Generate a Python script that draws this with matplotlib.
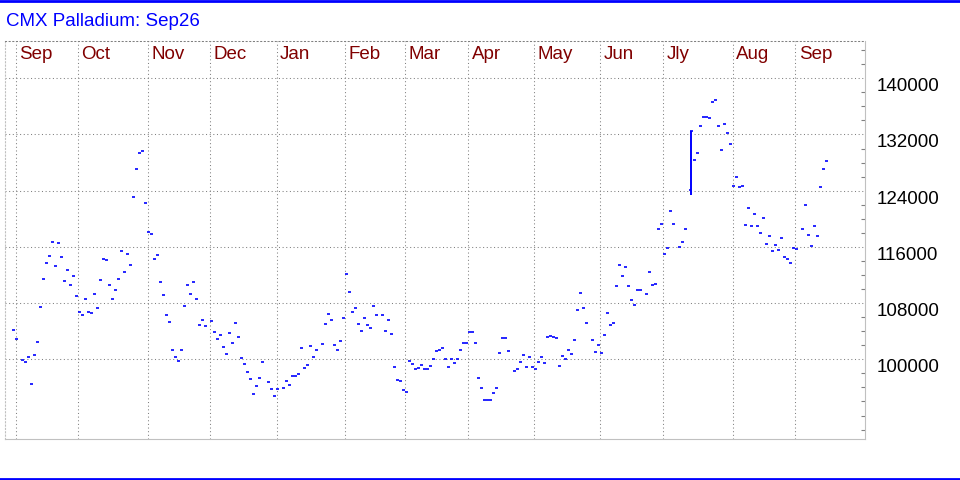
import numpy as np
import matplotlib
matplotlib.use('Agg')
import matplotlib.pyplot as plt
from matplotlib.lines import Line2D
from matplotlib.ticker import MultipleLocator

plt.rcParams['font.family'] = ['Liberation Sans', 'DejaVu Sans']

title = 'CMX Palladium: Sep26'

# month names and where their grid line falls (in trading-day slots)
months = ['Sep', 'Oct', 'Nov', 'Dec', 'Jan', 'Feb', 'Mar', 'Apr', 'May',
          'Jun', 'Jly', 'Aug', 'Sep']
month_pos = [0.8, 21.67, 44.8, 65.67, 87.8, 110.67, 130.67, 151.67, 173.67,
             195.67, 216.67, 239.8, 260.67]

nan = float('nan')
# daily settles, nan = holiday
closes = [
    104150, 102850, nan, 99900, 99570, 100280, 96440, 100570, 102420, 107400,
    111390, 113670, 114660, 116650, 113240, 116510, 114520, 111100, 112670, 110530,
    111820, 108970, 106690, 106260, 108540, 106690, 106550, 109250, 107260, 111250,
    114240, 114090, 110530, 108540, 109820, 111390, 115370, 112380, 114950, 113380,
    123060, 127050, 129320, 129610, 122210, 118080, 117790, 114240, 114800, 110960,
    109110, 106260, 105270, 101280, 100280, 99720, 101280, 107540, 110530, 109250,
    110960, 108540, 104840, 105550, 104700, nan, 105410, 103840, 102850, 103420,
    101710, 100710, 103700, 102280, 105120, 103130, 100140, 99290, 98150, 97150,
    95020, 96160, 97300, 99570, nan, 96730, 95730, 94730, 95730, nan,
    95870, 96870, 96300, 97580, 97580, 97860, 101570, 98720, 99150, 101850,
    100280, 101280, nan, 102140, 104980, 106410, 105550, 101990, 101280, 102560,
    105840, 112100, 109540, 106690, 107260, 104980, 103990, 105840, 104840, 104410,
    107540, 106260, nan, 106260, 103990, 105550, 103560, 98860, 97010, 96870,
    95590, 95300, 99720, 99290, 98580, 98720, 99150, 98580, 98580, 99000,
    100000, 101140, 101280, 101570, 100000, 98860, 100000, 99430, 100000, 101280,
    102280, 102280, 103840, 103840, 102280, 97300, 95870, 94160, 94160, 94160,
    95160, 95870, 100850, 102990, 102990, 101140, nan, 98290, 98580, 99570,
    100570, 98860, 100280, 98860, 98580, 99570, 100280, 99430, 103130, 103270,
    103130, 102990, 99000, 100430, 100000, 101280, 100710, 102700, 106980, 109400,
    107260, 105120, nan, 102700, 101000, 101990, 100850, 103420, 106550, 104840,
    105120, 110390, 113380, 111820, 113100, 110390, 108400, 107690, 109820, 109820,
    nan, 109250, 112380, 110530, 110680, 118510, 119220, 114950, 115800, 121070,
    119220, nan, 115940, 116650, 118510, nan, 132460, 128330, 129320, 133170,
    134450, 134450, 134310, 136580, 136870, 133170, 129750, 133450, 132170, 130600,
    124630, 125910, 124480, 124630, 119070, 121490, 118930, 120640, 118930, 117940,
    120070, 116370, 117510, 115370, 116230, 115520, 117220, 114520, 114240, 113670,
    115800, 115660, nan, 118510, 121920, 117650, 116090, 118930, 117510, 124480,
    127050, 128190,
]

# the one day that actually traded a range
bar_day = 226
bar_open = 124060
bar_high = 132460
bar_low = 123350

blue = '#0000ff'
grid_col = '#808080'
frame_col = '#c0c0c0'

fig = plt.figure(figsize=(9.6, 4.8), dpi=100)
ax = fig.add_axes([5.3 / 960, 41 / 480, (865 - 5.3) / 960, 398.3 / 480])

days = np.arange(len(closes))
c = np.array(closes, dtype=float)
ok = ~np.isnan(c)
ax.hlines(c[ok], days[ok] - 0.5, days[ok] + 0.5, colors=blue, lw=1.2)
ax.vlines(bar_day, bar_low, bar_high, colors=blue, lw=1.4)
ax.hlines(bar_open, bar_day - 0.8, bar_day, colors=blue, lw=1.2)

ax.set_xlim(-2.67, 283.9)
ax.set_ylim(88655, 145352)

ax.set_xticks(month_pos)
ax.set_xticklabels([])
ax.tick_params(axis='x', length=0)
ax.set_yticks(range(100000, 140001, 8000))
ax.yaxis.set_minor_locator(MultipleLocator(2000))
ax.yaxis.tick_right()
ax.tick_params(axis='y', which='major', length=0, pad=8.6, labelsize=13.5,
               labelcolor='black')
ax.tick_params(axis='y', which='minor', direction='in', length=3,
               color=grid_col, width=0.8, right=True, left=False)
for t in ax.get_yticklabels():
    t.set_va('top')
ax.grid(True, which='major', color=grid_col, ls=(0, (1, 2.5)), lw=0.75)

ax.spines['top'].set_color(grid_col)
ax.spines['top'].set_linestyle((0, (1, 2.5)))
ax.spines['top'].set_linewidth(0.75)
ax.spines['left'].set_color(frame_col)
ax.spines['left'].set_linestyle((0, (1, 2)))
ax.spines['left'].set_linewidth(0.8)
ax.spines['right'].set_color(frame_col)
ax.spines['bottom'].set_color(frame_col)

for p, m in zip(month_pos, months):
    ax.text(p + 1.1, 0.966, m, transform=ax.get_xaxis_transform(),
            color='#800000', fontsize=13.5, va='center', ha='left')

fig.text(6 / 960, 1 - 21 / 480, title, color=blue, fontsize=13.5, va='center')

fig.add_artist(Line2D([0, 1], [1 - 1.3 / 480] * 2, transform=fig.transFigure,
                      color=blue, lw=2))
fig.add_artist(Line2D([0, 1], [1.4 / 480] * 2, transform=fig.transFigure,
                      color=blue, lw=2))

fig.savefig('out.png', dpi=100)
